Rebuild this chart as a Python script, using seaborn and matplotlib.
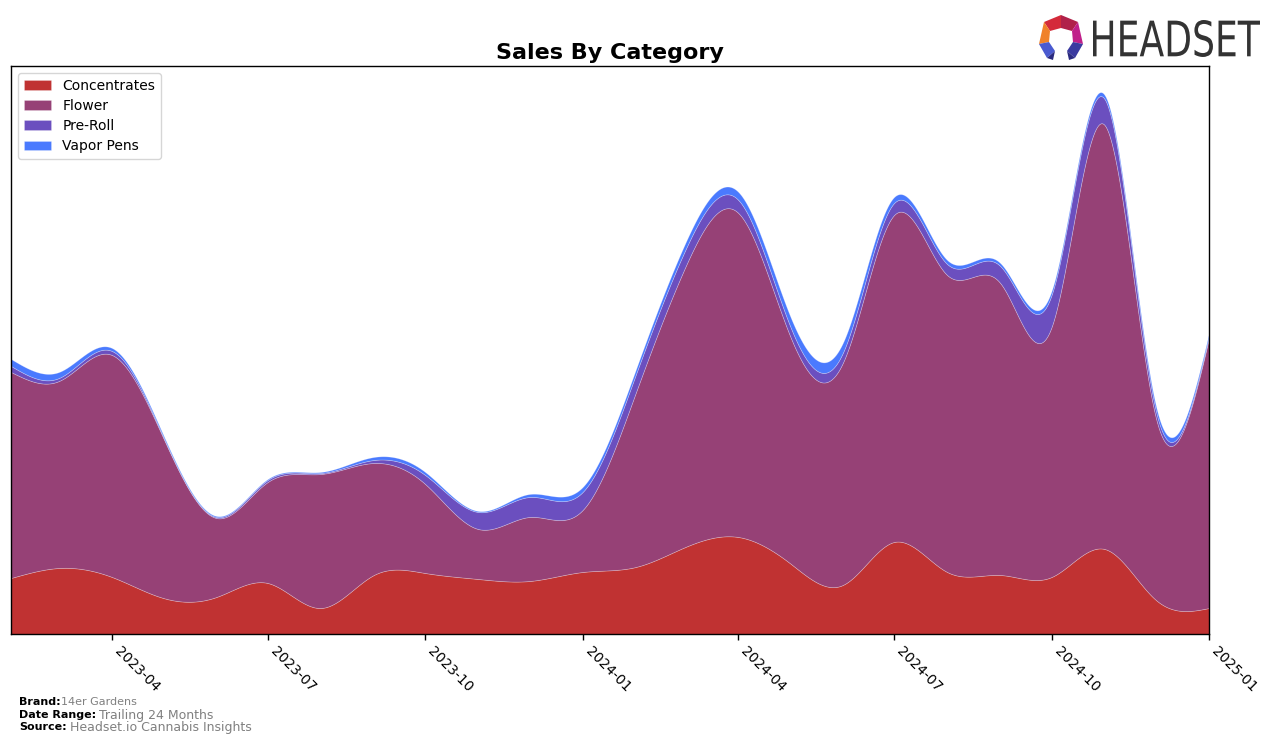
import numpy as np
import pandas as pd
import matplotlib
matplotlib.use("Agg")
import matplotlib.pyplot as plt
import matplotlib.dates as mdates
from matplotlib.patches import Polygon, PathPatch
from matplotlib.textpath import TextPath
from matplotlib.font_manager import FontProperties
import matplotlib.transforms as mtransforms
import seaborn as sns

# ---- data (monthly, arbitrary units) ----
months = pd.date_range("2023-02-01", periods=24, freq="MS")
categories = ["Concentrates", "Flower", "Pre-Roll", "Vapor Pens"]
concentrates = [56, 66, 57, 36, 37, 51, 26, 59, 61, 55, 53, 62, 67, 87, 97, 71, 49, 92, 62, 59, 57, 85, 34, 26]
flower = [206, 187, 222, 160, 79, 101, 134, 112, 89, 50, 64, 62, 174, 280, 324, 228, 222, 327, 297, 292, 250, 424, 182, 270]
pre_roll = [6, 3, 4, 1, 1, 2, 1, 3, 9, 17, 20, 18, 18, 17, 13, 10, 10, 12, 11, 17, 32, 26, 7, 2]
vapor_pens = [7, 6, 3, 2, 1, 1, 1, 3, 3, 1, 3, 5, 5, 7, 8, 10, 10, 6, 4, 3, 4, 4, 5, 3]
tick_labels = ["2023-04", "2023-07", "2023-10", "2024-01", "2024-04", "2024-07", "2024-10", "2025-01"]
colors = ["#c03232", "#964176", "#6b4fbf", "#4a7afe"]


def natural_cubic(x, y, xs):
    x = np.asarray(x, float)
    y = np.asarray(y, float)
    n = len(x)
    h = np.diff(x)
    A = np.zeros((n, n))
    r = np.zeros(n)
    A[0, 0] = 1
    A[-1, -1] = 1
    for i in range(1, n - 1):
        A[i, i - 1] = h[i - 1]
        A[i, i] = 2 * (h[i - 1] + h[i])
        A[i, i + 1] = h[i]
        r[i] = 3 * ((y[i + 1] - y[i]) / h[i] - (y[i] - y[i - 1]) / h[i - 1])
    c = np.linalg.solve(A, r)
    b = (y[1:] - y[:-1]) / h - h * (2 * c[:-1] + c[1:]) / 3
    d = (c[1:] - c[:-1]) / (3 * h)
    idx = np.clip(np.searchsorted(x, xs, side="right") - 1, 0, n - 2)
    dx = xs - x[idx]
    return y[idx] + b[idx] * dx + c[idx] * dx ** 2 + d[idx] * dx ** 3


sns.set_theme(style="white")
plt.rcParams["font.family"] = ["DejaVu Sans"]
plt.rcParams["text.color"] = "black"
plt.rcParams["axes.labelcolor"] = "black"
plt.rcParams["xtick.color"] = "black"
plt.rcParams["ytick.color"] = "black"

fig = plt.figure(figsize=(12.76, 7.44), dpi=100)
ax = fig.add_axes([11 / 1276, 1 - 634 / 744, 1198 / 1276, 568 / 744])

xnum = mdates.date2num(months.to_pydatetime())
xs = np.linspace(xnum[0], xnum[-1], 1500)
series = [concentrates, flower, pre_roll, vapor_pens]
smooth = [np.clip(natural_cubic(xnum, s, xs), 0, None) for s in series]

ax.stackplot(mdates.num2date(xs), *smooth, colors=colors, labels=categories,
             edgecolor=(1, 1, 1, 0.3), linewidth=0.5)

ax.set_xlim(months[0], months[-1])
ax.set_ylim(0, 568)
ax.set_yticks([])
tick_dates = pd.to_datetime(tick_labels)
ax.set_xticks(tick_dates)
ax.set_xticklabels(tick_labels, rotation=-45, ha="left", fontsize=10)
ax.tick_params(axis="x", bottom=True, length=4, width=1, color="black", pad=3)
for sp in ax.spines.values():
    sp.set_color("black")
    sp.set_linewidth(1)
ax.set_xlabel("")
ax.set_ylabel("")
ax.set_title("Sales By Category", fontsize=16, fontweight="bold", pad=5, color="black")

leg = ax.legend(loc="upper left", fontsize=10, frameon=True, borderpad=0.4,
                labelspacing=0.45, handlelength=2.0)
leg.get_frame().set_edgecolor("#cccccc")

# footer
fig.text(19 / 1276, 1 - 702 / 744, "Brand:", fontsize=8, fontweight="bold", va="center")
fig.text(61 / 1276, 1 - 702 / 744, "14er Gardens", fontsize=8, color="gray", va="center")
fig.text(19 / 1276, 1 - 715 / 744, "Date Range:", fontsize=8, fontweight="bold", va="center")
fig.text(99 / 1276, 1 - 715 / 744, "Trailing 24 Months", fontsize=9, color="gray", va="center")
fig.text(19 / 1276, 1 - 727 / 744, "Source:", fontsize=8, fontweight="bold", va="center")
fig.text(70 / 1276, 1 - 727 / 744, "Headset.io Cannabis Insights", fontsize=9, color="gray", va="center")

# logo
H = 744


def P(pts, color):
    fig.patches.append(Polygon([(px / 1276, 1 - py / H) for px, py in pts], closed=True,
                               transform=fig.transFigure, facecolor=color, edgecolor="none"))


P([(1044, 22), (1061, 15), (1061, 28), (1050, 31)], "#d42a3a")
P([(1061, 15), (1078, 22), (1072, 31), (1061, 28)], "#b0214a")
P([(1044, 22), (1050, 31), (1049, 42), (1039, 44)], "#f0822a")
P([(1078, 22), (1083, 44), (1073, 42), (1072, 31)], "#c0208a")
P([(1039, 44), (1049, 42), (1055, 51), (1047, 58)], "#4a5ad0")
P([(1083, 44), (1073, 42), (1067, 51), (1075, 58)], "#3a3aa0")
P([(1047, 58), (1055, 51), (1053, 60)], "#2a2a80")
P([(1075, 58), (1067, 51), (1069, 60)], "#2a2a80")

tp = TextPath((0, 0), "HEADSET", size=10, prop=FontProperties(family="DejaVu Sans"))
bb = tp.get_extents()
x0, x1, ytop, ybot = 1093, 1260, 20, 57
sx = (x1 - x0) / bb.width
sy = (ybot - ytop) / bb.height
tr = (mtransforms.Affine2D().translate(-bb.x0, -bb.y0).scale(sx, sy)
      .translate(x0, H - ybot))
fig.patches.append(PathPatch(tr.transform_path(tp), transform=mtransforms.IdentityTransform(),
                             facecolor="#333333", edgecolor="none"))

fig.savefig("out.png", dpi=100)
